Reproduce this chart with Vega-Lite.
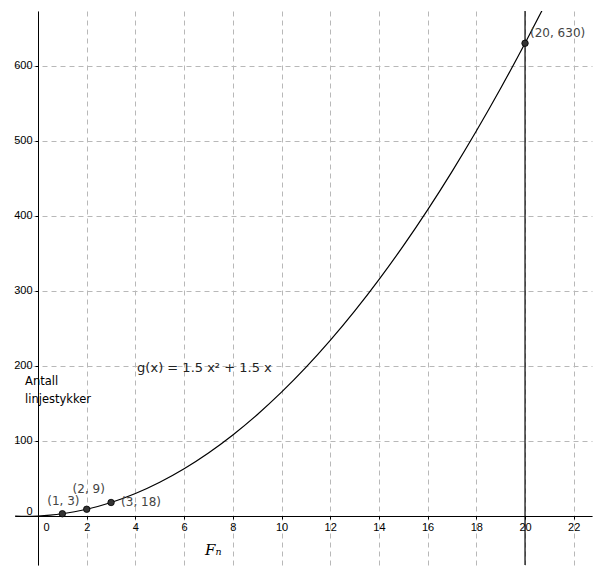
{
  "$schema": "https://vega.github.io/schema/vega-lite/v6.json",
  "width": 577,
  "height": 554,
  "autosize": {"type": "none"},
  "padding": {"left": 15, "top": 11, "right": 21, "bottom": 17},
  "background": "white",
  "config": {"view": {"stroke": null}},
  "datasets": {
    "curve": [
      {"x": -0.94, "y": -0.085}, {"x": -0.5, "y": -0.375}, {"x": 0, "y": 0}, {"x": 0.5, "y": 1.125},
      {"x": 1, "y": 3}, {"x": 1.5, "y": 5.625}, {"x": 2, "y": 9}, {"x": 3, "y": 18}, {"x": 4, "y": 30},
      {"x": 5, "y": 45}, {"x": 6, "y": 63}, {"x": 7, "y": 84}, {"x": 8, "y": 108}, {"x": 9, "y": 135},
      {"x": 10, "y": 165}, {"x": 11, "y": 198}, {"x": 12, "y": 234}, {"x": 13, "y": 273}, {"x": 14, "y": 315},
      {"x": 15, "y": 360}, {"x": 16, "y": 408}, {"x": 17, "y": 459}, {"x": 18, "y": 513}, {"x": 19, "y": 570},
      {"x": 20, "y": 630}, {"x": 20.7, "y": 673.8}
    ],
    "points": [
      {"x": 1, "y": 3, "label": "(1, 3)"},
      {"x": 2, "y": 9, "label": "(2, 9)"},
      {"x": 3, "y": 18, "label": "(3, 18)"},
      {"x": 20, "y": 630, "label": "(20, 630)"}
    ],
    "vline": [{"x": 20}],
    "notes": [
      {"x": 4.07, "y": 197, "text": "g(x) = 1.5 x² + 1.5 x", "kind": "formula"},
      {"x": -0.53, "y": 178.5, "text": "Antall\nlinjestykker", "kind": "ylabel"},
      {"x": 6.86, "y": -45.3, "text": "Fₙ", "kind": "xlabel"}
    ]
  },
  "layer": [
    {
      "data": {"name": "curve"},
      "mark": {"type": "line", "color": "black", "strokeWidth": 1.2, "interpolate": "monotone", "clip": true},
      "encoding": {
        "x": {
          "field": "x", "type": "quantitative",
          "scale": {"domain": [-0.945, 22.75], "nice": false, "zero": false},
          "axis": {
            "title": null, "values": [0, 2, 4, 6, 8, 10, 12, 14, 16, 18, 20, 22],
            "offset": -49, "domainColor": "black", "domainWidth": 1,
            "tickColor": "black", "tickSize": 3, "tickWidth": 1,
            "labelFont": "Liberation Sans", "labelFontSize": 11, "labelColor": "black",
            "labelPadding": 2, "labelFlush": false, "labelOverlap": false,
            "labelAlign": {"condition": {"test": "datum.value === 0", "value": "left"}, "value": "center"},
            "labelOffset": {"condition": {"test": "datum.value === 0", "value": 5}, "value": 0},
            "grid": true, "gridDash": [5, 4], "gridColor": "#b8b8b8", "gridWidth": 1
          }
        },
        "y": {
          "field": "y", "type": "quantitative",
          "scale": {"domain": [-65.3, 673], "nice": false, "zero": false},
          "axis": {
            "title": null, "values": [0, 100, 200, 300, 400, 500, 600],
            "offset": -23, "domainColor": "black", "domainWidth": 1,
            "tickColor": "black", "tickSize": 3, "tickWidth": 1,
            "labelFont": "Liberation Sans", "labelFontSize": 11, "labelColor": "black",
            "labelPadding": 3, "labelFlush": false, "labelOverlap": false,
            "labelBaseline": {"condition": {"test": "datum.value === 0", "value": "bottom"}, "value": "middle"},
            "grid": true, "gridDash": [5, 4], "gridColor": "#b8b8b8", "gridWidth": 1
          }
        }
      }
    },
    {
      "data": {"name": "vline"},
      "mark": {"type": "rule", "color": "black", "strokeWidth": 1.2},
      "encoding": {"x": {"field": "x", "type": "quantitative"}}
    },
    {
      "data": {"name": "points"},
      "mark": {"type": "point", "filled": true, "shape": "circle", "size": 42, "color": "#333333", "stroke": "black", "strokeWidth": 0.8, "opacity": 1},
      "encoding": {
        "x": {"field": "x", "type": "quantitative"},
        "y": {"field": "y", "type": "quantitative"}
      }
    },
    {
      "data": {"name": "points"},
      "transform": [{"filter": "datum.x === 1"}],
      "mark": {"type": "text", "font": "DejaVu Sans", "fontSize": 12, "color": "#444444", "align": "center", "baseline": "middle", "dx": 1, "dy": -13},
      "encoding": {"x": {"field": "x", "type": "quantitative"}, "y": {"field": "y", "type": "quantitative"}, "text": {"field": "label"}}
    },
    {
      "data": {"name": "points"},
      "transform": [{"filter": "datum.x === 2"}],
      "mark": {"type": "text", "font": "DejaVu Sans", "fontSize": 12, "color": "#444444", "align": "center", "baseline": "middle", "dx": 2, "dy": -20},
      "encoding": {"x": {"field": "x", "type": "quantitative"}, "y": {"field": "y", "type": "quantitative"}, "text": {"field": "label"}}
    },
    {
      "data": {"name": "points"},
      "transform": [{"filter": "datum.x === 3"}],
      "mark": {"type": "text", "font": "DejaVu Sans", "fontSize": 12, "color": "#444444", "align": "left", "baseline": "middle", "dx": 10, "dy": 0},
      "encoding": {"x": {"field": "x", "type": "quantitative"}, "y": {"field": "y", "type": "quantitative"}, "text": {"field": "label"}}
    },
    {
      "data": {"name": "points"},
      "transform": [{"filter": "datum.x === 20"}],
      "mark": {"type": "text", "font": "DejaVu Sans", "fontSize": 12, "color": "#444444", "align": "left", "baseline": "middle", "dx": 5, "dy": -10},
      "encoding": {"x": {"field": "x", "type": "quantitative"}, "y": {"field": "y", "type": "quantitative"}, "text": {"field": "label"}}
    },
    {
      "data": {"name": "notes"},
      "transform": [{"filter": "datum.kind === 'formula'"}],
      "mark": {"type": "text", "font": "DejaVu Sans", "fontSize": 13, "color": "#222222", "align": "left", "baseline": "middle"},
      "encoding": {"x": {"field": "x", "type": "quantitative"}, "y": {"field": "y", "type": "quantitative"}, "text": {"field": "text"}}
    },
    {
      "data": {"name": "notes"},
      "transform": [{"filter": "datum.kind === 'ylabel'"}],
      "mark": {"type": "text", "font": "DejaVu Sans", "fontSize": 11.5, "color": "black", "align": "left", "baseline": "middle", "lineBreak": "\n", "lineHeight": 18},
      "encoding": {"x": {"field": "x", "type": "quantitative"}, "y": {"field": "y", "type": "quantitative"}, "text": {"field": "text"}}
    },
    {
      "data": {"name": "notes"},
      "transform": [{"filter": "datum.kind === 'xlabel'"}],
      "mark": {"type": "text", "font": "DejaVu Serif", "fontSize": 15, "fontStyle": "italic", "color": "black", "align": "left", "baseline": "middle"},
      "encoding": {"x": {"field": "x", "type": "quantitative"}, "y": {"field": "y", "type": "quantitative"}, "text": {"field": "text"}}
    }
  ]
}
